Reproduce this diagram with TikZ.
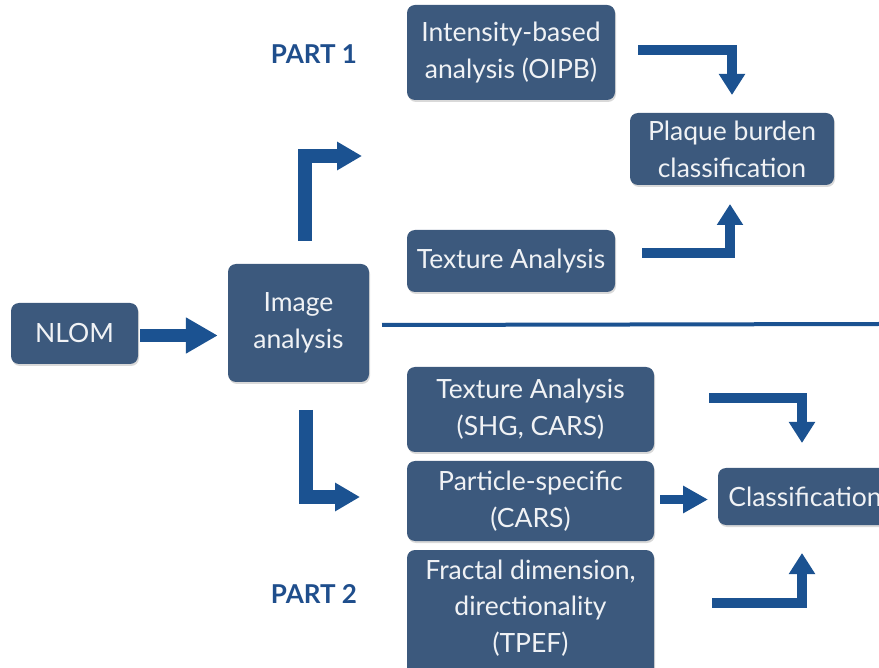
\documentclass[tikz,border=0pt]{standalone}
\usepackage{fontspec}
\setmainfont{Lato}
\usetikzlibrary{arrows.meta,shadows,calc}
\definecolor{boxfill}{RGB}{60,89,125}
\definecolor{arrowblue}{RGB}{27,82,145}
\definecolor{parttext}{RGB}{31,78,140}
\definecolor{boxtext}{RGB}{240,242,245}
\begin{document}
\begin{tikzpicture}[x=1pt,y=-1pt,
  box/.style={draw=none, fill=boxfill, rounded corners=8pt, text=boxtext,
    font=\fontsize{26.5}{37}\selectfont, align=center, inner sep=0pt,
    drop shadow={shadow xshift=1pt, shadow yshift=-2pt, opacity=0.3}},
  boxlabel/.style={text=boxtext, font=\fontsize{26.5}{36.5}\selectfont, align=center, inner sep=0pt},
  fat/.style={draw=arrowblue, line width=10pt, line join=miter, line cap=butt,
    -{Triangle[length=21pt,width=25pt]}},
  bigfat/.style={draw=arrowblue, line width=14pt, line join=miter, line cap=butt,
    -{Triangle[length=25pt,width=27pt]}},
  part/.style={text=parttext, font=\bfseries\fontsize{26}{30}\selectfont}]
\clip (0,0) rectangle (879,668);
\useasboundingbox (0,0) rectangle (879,668);

% boxes
\node[box, minimum width=127pt, minimum height=61pt] (nlom) at (74.5,333.5) {NLOM};
\node[box, minimum width=141pt, minimum height=118pt] (img) at (298.5,323) {Image\\analysis};
\node[box, minimum width=208pt, minimum height=95pt] (int) at (511,52.5) {Intensity-based\\analysis (OIPB)};
\node[box, minimum width=204pt, minimum height=72pt] (plaque) at (732,149) {Plaque burden\\classification};
\node[box, minimum width=208pt, minimum height=62pt] (tex1) at (511,261) {Texture Analysis};
\node[box, minimum width=247pt, minimum height=85pt] (tex2) at (530.5,409.5) {Texture Analysis\\(SHG, CARS)};
\node[box, minimum width=247pt, minimum height=80pt] (part) at (530.5,501) {Particle-specific\\(CARS)};
\node[box, minimum width=247pt, minimum height=130pt] (frac) at (530.5,615) {};
\node[boxlabel] (fractext) at (530.5,608) {Fractal dimension,\\directionality\\(TPEF)};
\node[box, minimum width=174pt, minimum height=57pt] (cls) at (805,496.5) {Classification};

% part labels
\node[part] (p1) at (314,54) {PART 1};
\node[part] (p2) at (314,594) {PART 2};

% separator
\coordinate (sepL) at (382,325);
\coordinate (sepR) at (879,324);
\draw[arrowblue, line width=4pt] (sepL) -- (sepR);

% arrow end points
\coordinate (a0s) at ($(nlom.east |- 0,335.5)+(2,0)$);
\coordinate (a0e) at ($(img.west |- 0,335.5)+(-10,0)$);
\coordinate (u1s) at (304.5,241);
\coordinate (u1e) at (362,156);
\coordinate (d1s) at (306,410);
\coordinate (d1e) at (360,497);
\coordinate (r1s) at (638,50);
\coordinate (r1e) at (732,95);
\coordinate (r2s) at (642,253);
\coordinate (r2e) at (730,204);
\coordinate (r3s) at (709,398.5);
\coordinate (r3e) at (802,443);
\coordinate (r4s) at (660,499.5);
\coordinate (r4e) at (708,499.5);
\coordinate (r5s) at (712,602.5);
\coordinate (r5e) at (802,553);

% arrows
\draw[draw=arrowblue, line width=13pt, line cap=butt, -{Triangle[length=32pt,width=34pt]}] (a0s) -- (a0e);
\draw[bigfat] (u1s) |- (u1e);
\draw[bigfat] (d1s) |- (d1e);
\draw[fat] (r1s) -| (r1e);
\draw[fat] (r2s) -| (r2e);
\draw[fat] (r3s) -| (r3e);
\draw[fat, line width=9pt, -{Triangle[length=25pt,width=26pt]}] (r4s) -- (r4e);
\draw[fat] (r5s) -| (r5e);
\end{tikzpicture}
\end{document}
